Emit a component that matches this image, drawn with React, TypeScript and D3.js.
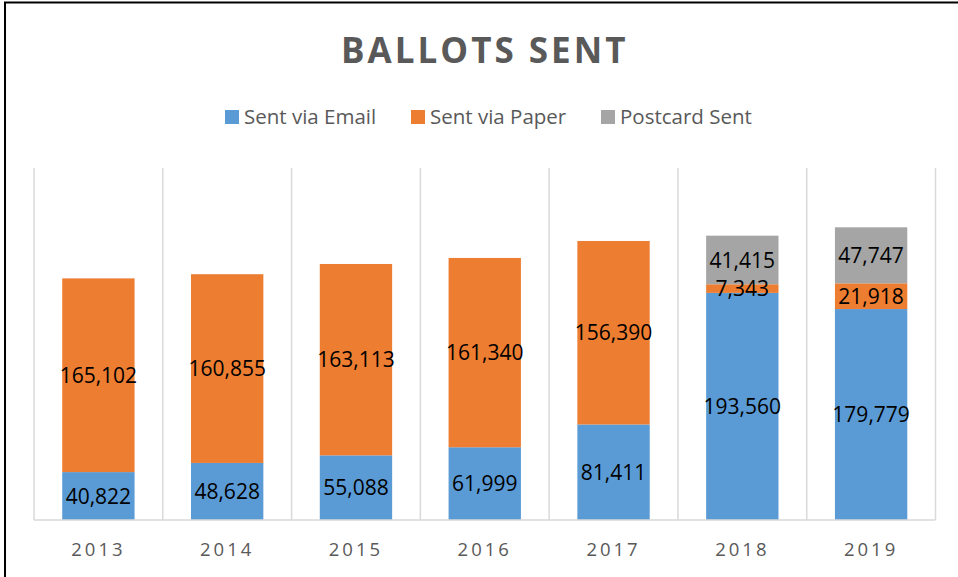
import React from "react";
import * as d3 from "d3";

const years = ["2013", "2014", "2015", "2016", "2017", "2018", "2019"];
const sentViaEmail = [40822, 48628, 55088, 61999, 81411, 193560, 179779];
const sentViaPaper = [165102, 160855, 163113, 161340, 156390, 7343, 21918];
const postcardSent = [0, 0, 0, 0, 0, 41415, 47747];
const seriesNames = ["Sent via Email", "Sent via Paper", "Postcard Sent"];
const seriesColors = ["#5B9BD5", "#ED7D31", "#A5A5A5"];
const yMax = 300000;

const W = 958;
const H = 577;
const FONT = "'Open Sans', sans-serif";

export default function App() {
  const plotLeft = 34;
  const plotRight = 935.5;
  const plotTop = 168;
  const plotBottom = 520;

  const x = d3.scaleBand<string>().domain(years).range([plotLeft, plotRight]).padding(0);
  const y = d3.scaleLinear().domain([0, yMax]).range([plotBottom, plotTop]);
  const barW = x.bandwidth() / 1.78;

  const rows = years.map((yr, i) => ({
    year: yr,
    email: sentViaEmail[i],
    paper: sentViaPaper[i],
    postcard: postcardSent[i],
  }));
  const stack = d3.stack<any>().keys(["email", "paper", "postcard"]);
  const layers = stack(rows);
  const fmt = d3.format(",");

  const legendItems = [
    { name: seriesNames[0], color: seriesColors[0], x: 225 },
    { name: seriesNames[1], color: seriesColors[1], x: 411 },
    { name: seriesNames[2], color: seriesColors[2], x: 601 },
  ];

  return (
    <svg
      width={W}
      height={H}
      style={{ position: "absolute", left: 0, top: 0, background: "#fff" }}
    >
      <rect x={0} y={0} width={W} height={H} fill="#fff" />
      <rect x={5} y={2.5} width={W + 20} height={H + 20} fill="none" stroke="#000" strokeWidth={2} />

      <text
        x={(plotLeft + plotRight) / 2}
        y={63}
        textAnchor="middle"
        fontFamily={FONT}
        fontWeight={700}
        fontSize={35}
        letterSpacing={3}
        fill="#595959"
      >
        BALLOTS SENT
      </text>

      {legendItems.map((d) => (
        <g key={d.name}>
          <rect x={d.x} y={110} width={14} height={14} fill={d.color} />
          <text x={d.x + 19} y={123.5} fontFamily={FONT} fontSize={20.5} fill="#595959">
            {d.name}
          </text>
        </g>
      ))}

      {/* vertical gridlines at category boundaries */}
      {[...years.map((yr) => x(yr) as number), plotRight].map((gx, i) => (
        <line key={i} x1={gx} x2={gx} y1={plotTop} y2={plotBottom} stroke="#D9D9D9" strokeWidth={1.5} />
      ))}

      {layers.map((layer, li) =>
        layer.map((seg, i) => {
          const v = seg[1] - seg[0];
          if (v <= 0) return null;
          const cx = (x(years[i]) as number) + x.bandwidth() / 2;
          return (
            <rect
              key={`${li}-${i}`}
              x={cx - barW / 2}
              y={y(seg[1])}
              width={barW}
              height={y(seg[0]) - y(seg[1])}
              fill={seriesColors[li]}
            />
          );
        })
      )}

      <line x1={plotLeft} x2={plotRight} y1={plotBottom} y2={plotBottom} stroke="#D9D9D9" strokeWidth={1.5} />

      {layers.map((layer, li) =>
        layer.map((seg, i) => {
          const v = seg[1] - seg[0];
          if (v <= 0) return null;
          const cx = (x(years[i]) as number) + x.bandwidth() / 2;
          const cy = (y(seg[0]) + y(seg[1])) / 2;
          return (
            <text
              key={`l${li}-${i}`}
              x={cx}
              y={cy}
              dy="0.36em"
              textAnchor="middle"
              fontFamily={FONT}
              fontSize={21}
              fill="#000"
            >
              {fmt(v)}
            </text>
          );
        })
      )}

      {years.map((yr) => (
        <text
          key={yr}
          x={(x(yr) as number) + x.bandwidth() / 2}
          y={556}
          textAnchor="middle"
          fontFamily={FONT}
          fontSize={18.5}
          letterSpacing={3}
          fill="#595959"
        >
          {yr}
        </text>
      ))}
    </svg>
  );
}
